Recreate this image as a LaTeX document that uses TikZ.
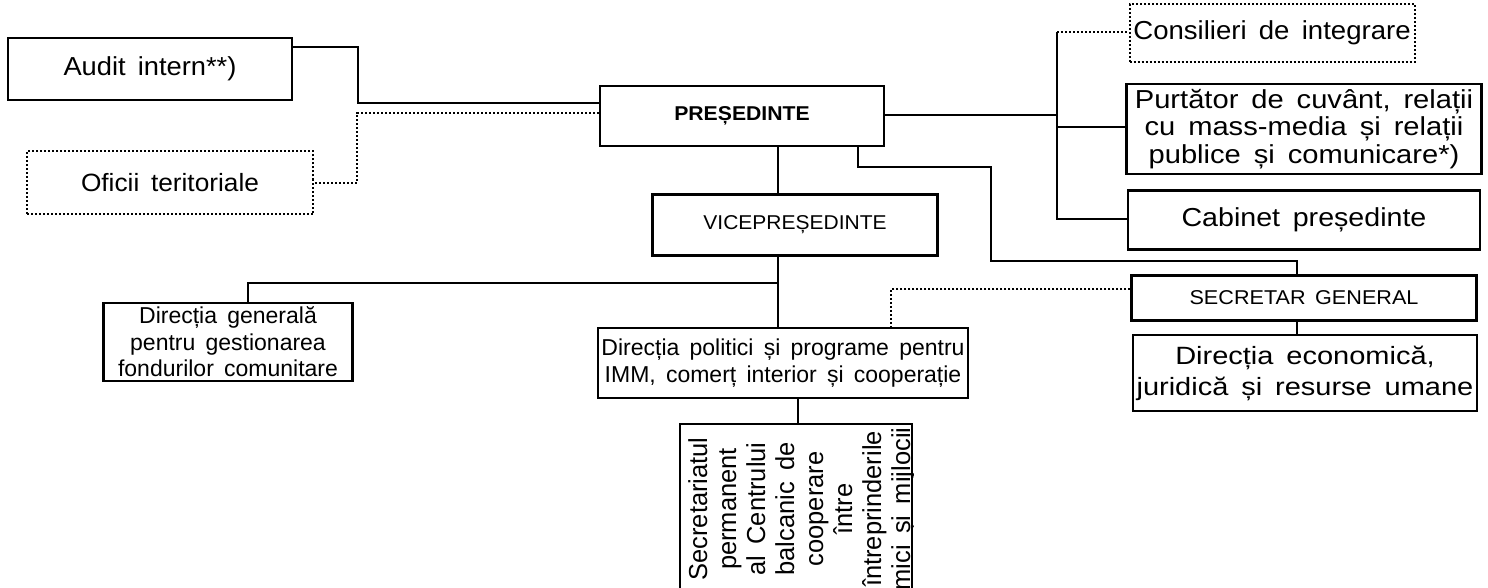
\documentclass[tikz,border=0pt]{standalone}
\usepackage{fontspec}
\setmainfont{Liberation Sans}[WordSpace=1.6]
\usetikzlibrary{calc}
\newcommand{\boxfont}[3]{\fontsize{#1}{#2}\selectfont\addfontfeatures{FakeStretch=#3}}
\tikzset{
  box/.style={draw, line width=2.5pt, inner sep=0pt, align=center},
  dbox/.style={box, line width=2pt, dotted},
  conn/.style={line width=2.5pt},
  dconn/.style={line width=2pt, dotted},
}
\begin{document}
\begin{tikzpicture}[x=1pt,y=-1pt]
\useasboundingbox (0,0) rectangle (1488,588);
\clip (0,0) rectangle (1488,588);
% boxes
\node[box, minimum width=284pt, minimum height=62pt, font=\boxfont{26}{28}{1.05}] (audit) at (150,69) {Audit intern**)};
\node[dbox, minimum width=286pt, minimum height=63pt, font=\boxfont{25}{28}{1.05}] (oficii) at (170,183) {Oficii teritoriale};
\node[box, minimum width=284pt, minimum height=60pt, font=\bfseries\boxfont{20}{22}{1.06}] (pres) at (742,116) {PREȘEDINTE};
\node[dbox, minimum width=285pt, minimum height=58pt, font=\boxfont{26}{28}{1.06}] (cons) at (1272,33) {Consilieri de integrare};
\node[box, minimum width=355pt, minimum height=90pt, font=\boxfont{26}{27.5}{1.12}] (purt) at (1304,129) {Purtător de cuvânt, relații\\cu mass-media și relații\\publice și comunicare*)};
\node[box, minimum width=352pt, minimum height=59pt, font=\boxfont{26}{28}{1.1}] (cab) at (1304,220) {Cabinet președinte};
\node[box, minimum width=285pt, minimum height=61pt, font=\boxfont{20}{22}{1.05}] (vice) at (795,225) {VICEPREȘEDINTE};
\node[box, minimum width=345pt, minimum height=45pt, font=\boxfont{20}{22}{1.08}] (secr) at (1304,298) {SECRETAR GENERAL};
\node[box, minimum width=344pt, minimum height=76pt, font=\boxfont{25}{31}{1.16}] (econ) at (1305,373) {Direcția economică,\\juridică și resurse umane};
\node[box, minimum width=249pt, minimum height=78pt, font=\boxfont{23}{26.5}{1}] (gen) at (228,342) {Direcția generală\\pentru gestionarea\\fondurilor comunitare};
\node[box, minimum width=370pt, minimum height=70pt, font=\boxfont{23}{27}{1}] (pol) at (783,363) {Direcția politici și programe pentru\\IMM, comerț interior și cooperație};
\node[draw, line width=2.5pt, minimum width=232pt, minimum height=260pt, inner sep=0pt] (sec) at (796,554) {};
\begin{scope}
\clip (sec.south west) rectangle (sec.north east);
\node[rotate=90, align=center, inner sep=0pt, font=\boxfont{26}{29}{0.98}] (sectxt) at (802,509) {Secretariatul\\permanent\\al Centrului\\balcanic de\\cooperare\\între\\întreprinderile\\mici și mijlocii};
\end{scope}
% coordinates
\coordinate (a1) at (358,47);
\coordinate (a2) at (358,103);
\coordinate (o1) at (357,113);
\coordinate (o2) at (357,183);
\coordinate (t0) at (1057,32);
\coordinate (t1) at (1057,115);
\coordinate (t2) at (1057,127);
\coordinate (t3) at (1057,219);
\coordinate (s1) at (858,167);
\coordinate (s2) at (991,167);
\coordinate (s3) at (991,261);
\coordinate (s4) at (1297,261);
\coordinate (v1) at (778,283);
\coordinate (v2) at (248,283);
\coordinate (d1) at (891,289);
% connectors
\draw[conn] (audit.east |- a1) -- (a1) -- (a2) -- (pres.west |- a2);
\draw[dconn] (pres.west |- o1) -- (o1) -- (o2) -- (oficii.east |- o2);
\draw[conn] (pres.east |- t1) -- (t1);
\draw[conn] (t0) -- (t3) -- (cab.west |- t3);
\draw[dconn] (t0) -- (cons.west |- t0);
\draw[conn] (t2) -- (purt.west |- t2);
\draw[conn] (pres.south -| v1) -- (vice.north -| v1);
\draw[conn] (pres.south -| s1) -- (s1) -- (s2) -- (s3) -- (s4) -- (secr.north -| s4);
\draw[conn] (vice.south -| v1) -- (pol.north -| v1);
\draw[conn] (v1) -- (v2) -- (gen.north -| v2);
\draw[dconn] (secr.west |- d1) -- (d1) -- (pol.north -| d1);
\draw[conn] (secr.south -| s4) -- (econ.north -| s4);
\draw[conn] (pol.south -| 798,0) -- (sec.north -| 798,0);
\end{tikzpicture}
\end{document}
